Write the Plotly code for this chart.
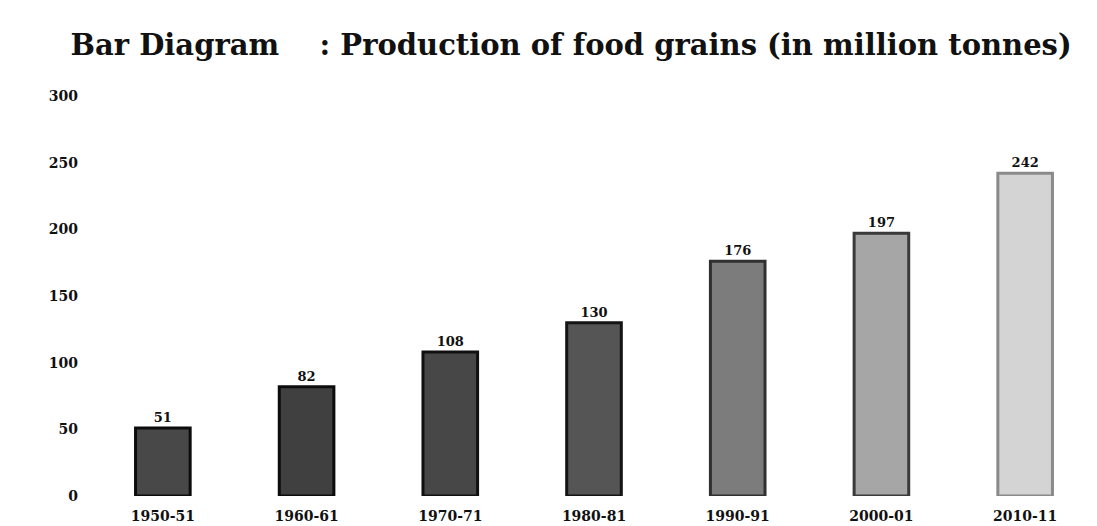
import plotly.graph_objects as go

categories = ["1950-51", "1960-61", "1970-71", "1980-81", "1990-91", "2000-01", "2010-11"]
production = [51, 82, 108, 130, 176, 197, 242]
y_ticks = [0, 50, 100, 150, 200, 250, 300]
bar_fill = ["#484848", "#404040", "#474747", "#555555", "#7c7c7c", "#a6a6a6", "#d4d4d4"]
bar_edge = ["#0c0c0c", "#0c0c0c", "#101010", "#141414", "#303030", "#3a3a3a", "#8a8a8a"]

fig = go.Figure()
fig.add_trace(go.Bar(
    x=categories,
    y=production,
    text=["<b>%d</b>" % v for v in production],
    textposition="outside",
    textfont=dict(family="DejaVu Serif", size=13, color="#111111"),
    cliponaxis=False,
    marker=dict(color=bar_fill, line=dict(color=bar_edge, width=3)),
))

fig.update_layout(
    width=1097,
    height=526,
    paper_bgcolor="white",
    plot_bgcolor="white",
    showlegend=False,
    bargap=0.62,
    margin=dict(l=83, r=8, t=88, b=38),
    title=dict(
        text="<b>Bar Diagram    : Production of food grains (in million tonnes)</b>",
        x=0.057, xanchor="left", y=0.93, yanchor="middle",
        font=dict(family="DejaVu Serif", size=29, color="#111111"),
    ),
    font=dict(family="DejaVu Serif", color="#111111"),
)
fig.update_xaxes(
    type="category",
    showgrid=False, showline=False, zeroline=False, ticks="",
    ticklabelstandoff=10,
    tickfont=dict(family="DejaVu Serif", size=14, color="#111111"),
    tickvals=categories,
    ticktext=["<b>%s</b>" % c for c in categories],
)
fig.update_yaxes(
    range=[0, 300], tickvals=y_ticks,
    ticktext=["<b>%d</b>" % t for t in y_ticks],
    showgrid=False, showline=False, zeroline=False,
    ticks="", ticklabelstandoff=12,
    tickfont=dict(family="DejaVu Serif", size=14, color="#111111"),
)

fig.write_html("out.html")
